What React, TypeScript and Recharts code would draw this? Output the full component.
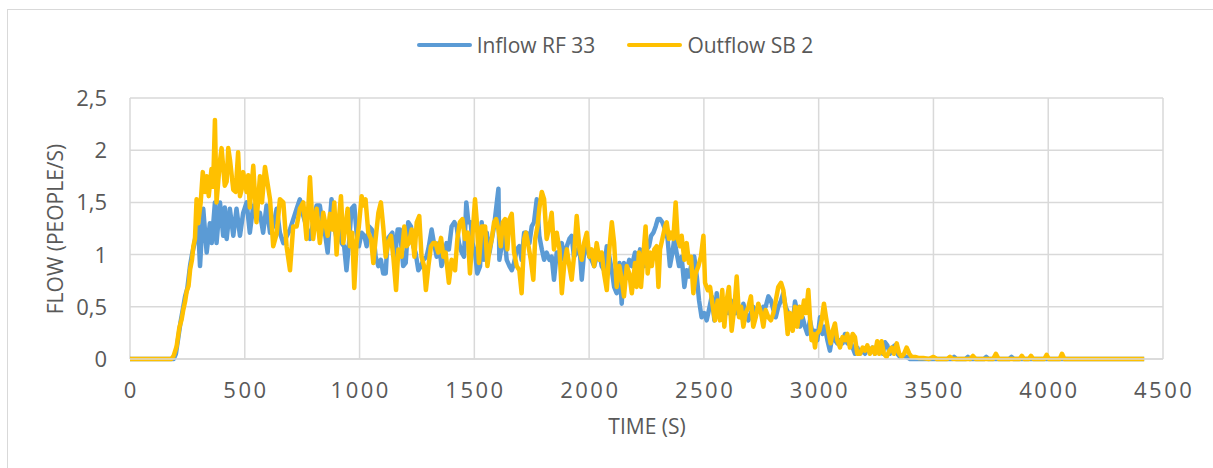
import React from "react";
import { LineChart, Line, XAxis, YAxis, CartesianGrid, Legend, Label } from "recharts";

// time (s) -> flow (people/s)
const INFLOW_RF33: [number, number][] = [
  [0, 0], [190, 0], [200, 0.05], [210, 0.2], [220, 0.35], [232, 0.5], [240, 0.6], [250, 0.68], [262, 0.9], [270, 1.0],
  [280, 1.1], [290, 1.25], [297, 1.27], [305, 0.89], [319, 1.44], [334, 1.02], [348, 1.3], [356, 1.11], [370, 1.5], [377, 1.11],
  [392, 1.5], [406, 1.18], [413, 1.45], [421, 1.15], [435, 1.44], [450, 1.18], [464, 1.44], [479, 1.18], [493, 1.4], [508, 1.5],
  [522, 1.21], [537, 1.47], [551, 1.34], [566, 1.4], [580, 1.21], [595, 1.47], [610, 1.21], [624, 1.27], [639, 1.44], [653, 1.21],
  [668, 1.11], [697, 1.24], [726, 1.44], [740, 1.53], [755, 1.37], [784, 1.15], [813, 1.47], [827, 1.47], [842, 1.24],
  [849, 1.21], [861, 1.02], [871, 1.34], [878, 1.53], [890, 1.27], [900, 1.15], [910, 1.24], [922, 1.11], [933, 1.08], [943, 0.85],
  [954, 1.11], [965, 1.44], [977, 1.47], [987, 1.21], [997, 1.08], [1009, 1.21], [1021, 1.18], [1031, 1.08], [1041, 1.27], [1053, 1.24],
  [1060, 1.21], [1070, 0.98], [1082, 0.89], [1093, 0.95], [1103, 0.82], [1114, 0.82], [1122, 1.15], [1132, 1.18], [1143, 1.21], [1154, 0.95],
  [1166, 1.24], [1176, 1.24], [1190, 0.89], [1201, 0.92], [1212, 1.31], [1224, 1.27], [1234, 1.08], [1244, 1.02], [1256, 0.85], [1268, 0.89],
  [1278, 0.95], [1292, 0.98], [1302, 1.08], [1314, 1.24], [1324, 1.11], [1336, 0.98], [1346, 1.11], [1357, 0.89], [1369, 0.98], [1379, 1.11],
  [1389, 1.05], [1401, 1.27], [1413, 1.31], [1423, 1.27], [1433, 1.11], [1445, 1.02], [1455, 0.98], [1465, 1.5], [1474, 1.31], [1484, 1.31],
  [1492, 1.11], [1503, 1.02], [1513, 0.82], [1525, 0.89], [1532, 1.31], [1542, 0.95], [1554, 1.21], [1566, 1.02], [1576, 1.15], [1586, 1.27],
  [1598, 1.5], [1605, 1.63], [1609, 0.95], [1619, 1.08], [1630, 1.21], [1641, 0.95], [1653, 0.89], [1663, 0.85], [1673, 0.92], [1685, 1.05],
  [1696, 1.08], [1706, 0.95], [1717, 1.21], [1728, 1.21], [1740, 1.11], [1750, 1.27], [1760, 1.31], [1772, 1.53], [1783, 1.18], [1794, 1.05],
  [1804, 0.95], [1815, 1.02], [1827, 0.95], [1837, 0.98], [1847, 0.76], [1859, 1.02], [1871, 1.02], [1881, 1.11], [1891, 0.95], [1903, 1.08],
  [1914, 1.15], [1924, 1.18], [1934, 0.98], [1946, 1.02], [1958, 1.08], [1968, 0.76], [1978, 1.02], [1990, 1.08], [2001, 0.98], [2011, 0.95],
  [2022, 0.89], [2033, 0.98], [2045, 1.02], [2055, 0.89], [2065, 0.85], [2077, 1.08], [2088, 0.98], [2099, 0.85], [2109, 0.69], [2120, 0.63],
  [2132, 0.92], [2142, 0.53], [2152, 0.92], [2164, 0.85], [2175, 0.95], [2186, 0.89], [2200, 1.02], [2212, 0.82], [2222, 1.05], [2232, 1.02],
  [2241, 0.89], [2251, 1.05], [2261, 1.08], [2270, 1.18], [2280, 1.21], [2290, 1.27], [2299, 1.34], [2309, 1.34], [2319, 1.31], [2331, 1.24],
  [2342, 1.15], [2352, 0.89], [2363, 1.02], [2371, 1.15], [2381, 1.02], [2392, 0.89], [2403, 0.98], [2415, 0.69], [2425, 0.85], [2435, 0.79],
  [2447, 0.92], [2458, 0.98], [2469, 0.79], [2479, 0.56], [2490, 0.4], [2502, 0.44], [2512, 0.37], [2522, 0.47], [2534, 0.6], [2546, 0.37],
  [2556, 0.63], [2566, 0.44], [2575, 0.4], [2585, 0.56], [2595, 0.5], [2607, 0.44], [2618, 0.56], [2628, 0.5], [2639, 0.44], [2650, 0.5],
  [2662, 0.4], [2672, 0.53], [2682, 0.44], [2694, 0.37], [2705, 0.44], [2715, 0.5], [2726, 0.44], [2737, 0.5], [2749, 0.44], [2759, 0.5],
  [2769, 0.5], [2781, 0.6], [2792, 0.56], [2803, 0.47], [2813, 0.4], [2824, 0.5], [2836, 0.56], [2846, 0.63], [2856, 0.5], [2868, 0.44],
  [2887, 0.34], [2897, 0.55], [2907, 0.44], [2919, 0.31], [2930, 0.4], [2940, 0.31], [2951, 0.24], [2962, 0.37], [2974, 0.24], [2984, 0.27],
  [2994, 0.18], [3006, 0.4], [3017, 0.24], [3027, 0.31], [3038, 0.18], [3049, 0.08], [3061, 0.24], [3071, 0.18], [3081, 0.15], [3093, 0.18],
  [3104, 0.15], [3115, 0.24], [3125, 0.15], [3136, 0.18], [3148, 0.11], [3158, 0.05], [3168, 0.11], [3180, 0.05], [3192, 0.08], [3202, 0.05],
  [3212, 0.11], [3223, 0.08], [3235, 0.11], [3245, 0.05], [3255, 0.08], [3267, 0.11], [3279, 0.05], [3289, 0.16], [3299, 0.13], [3311, 0.05],
  [3322, 0.11], [3332, 0.13], [3343, 0.05], [3354, 0.02], [3369, 0.03], [3383, 0.02], [3398, 0], [3580, 0], [3590, 0.02], [3600, 0],
  [3640, 0], [3650, 0.02], [3660, 0], [3720, 0], [3730, 0.02], [3740, 0], [3830, 0], [3840, 0.02], [3850, 0], [4418, 0],
];

const OUTFLOW_SB2: [number, number][] = [
  [0, 0], [180, 0], [190, 0.03], [203, 0.12], [215, 0.3], [225, 0.38], [232, 0.47], [240, 0.55], [247, 0.65], [255, 0.7],
  [262, 0.86], [270, 0.95], [276, 1.08], [283, 1.15], [290, 1.53], [297, 1.3], [308, 1.5], [317, 1.79], [327, 1.6], [334, 1.75],
  [343, 1.56], [355, 1.82], [362, 1.65], [370, 2.29], [377, 1.5], [392, 1.9], [399, 2.02], [413, 1.66], [421, 1.7], [428, 2.02],
  [436, 1.9], [450, 1.62], [460, 1.6], [471, 1.98], [479, 1.56], [486, 1.62], [493, 1.79], [508, 1.6], [515, 1.76], [522, 1.45],
  [537, 1.85], [551, 1.31], [566, 1.75], [575, 1.5], [588, 1.84], [610, 1.53], [617, 1.3], [624, 1.08], [639, 1.2], [653, 1.53],
  [668, 1.5], [682, 1.08], [697, 0.85], [711, 1.27], [726, 1.27], [740, 1.44], [755, 1.5], [769, 1.15], [784, 1.74], [798, 1.15],
  [813, 1.44], [827, 1.11], [842, 1.4], [861, 1.18], [871, 1.39], [881, 1.24], [890, 1.5], [900, 1.0], [907, 1.27], [919, 1.56],
  [929, 1.11], [939, 1.27], [948, 1.44], [958, 1.08], [968, 1.21], [977, 0.68], [987, 1.11], [997, 1.27], [1009, 1.56], [1016, 1.47],
  [1026, 1.53], [1038, 1.21], [1050, 1.15], [1060, 0.92], [1070, 1.15], [1082, 1.4], [1093, 1.5], [1103, 1.27], [1114, 0.98], [1125, 1.11],
  [1137, 1.18], [1147, 0.98], [1159, 0.66], [1169, 1.05], [1183, 0.98], [1195, 1.27], [1205, 1.08], [1215, 1.11], [1227, 1.24], [1239, 0.98],
  [1249, 1.31], [1260, 1.37], [1270, 0.98], [1281, 0.89], [1289, 0.66], [1300, 0.89], [1311, 1.08], [1321, 1.11], [1331, 1.11], [1343, 1.02],
  [1355, 1.16], [1365, 0.98], [1375, 1.02], [1389, 0.73], [1401, 0.95], [1416, 0.85], [1426, 1.15], [1437, 1.31], [1448, 1.34], [1459, 1.15],
  [1471, 1.21], [1481, 0.82], [1491, 1.15], [1503, 1.53], [1510, 1.34], [1520, 0.92], [1532, 1.27], [1547, 1.27], [1557, 0.89], [1566, 1.05],
  [1576, 1.15], [1586, 1.31], [1595, 1.34], [1605, 1.24], [1615, 1.08], [1624, 1.31], [1634, 1.34], [1644, 1.05], [1653, 1.34], [1663, 1.39],
  [1673, 1.02], [1685, 0.89], [1696, 0.85], [1706, 0.63], [1717, 1.15], [1725, 1.21], [1736, 1.08], [1746, 0.95], [1757, 0.76], [1765, 1.15],
  [1775, 1.27], [1783, 1.44], [1794, 1.6], [1804, 1.53], [1815, 1.15], [1827, 1.27], [1837, 1.4], [1847, 1.05], [1859, 1.21], [1871, 1.05],
  [1881, 0.63], [1891, 0.89], [1903, 1.05], [1914, 0.89], [1924, 0.76], [1934, 0.98], [1946, 1.37], [1958, 1.05], [1968, 0.95], [1978, 1.11],
  [1990, 1.21], [2001, 0.98], [2011, 1.05], [2022, 0.89], [2033, 1.11], [2045, 0.95], [2055, 1.02], [2065, 0.82], [2077, 0.66], [2088, 1.05],
  [2099, 1.31], [2109, 1.11], [2120, 0.69], [2132, 0.89], [2142, 0.76], [2152, 0.6], [2164, 0.89], [2175, 0.82], [2186, 0.63], [2200, 0.92],
  [2207, 0.69], [2217, 1.02], [2226, 0.69], [2236, 0.98], [2246, 1.27], [2255, 0.82], [2265, 1.02], [2273, 0.89], [2284, 1.05], [2294, 1.08],
  [2302, 0.69], [2309, 1.05], [2319, 1.15], [2331, 1.27], [2338, 1.31], [2348, 1.15], [2357, 1.21], [2367, 1.15], [2377, 1.5], [2386, 1.15],
  [2396, 1.08], [2403, 1.18], [2415, 0.95], [2425, 1.11], [2435, 0.92], [2444, 0.98], [2454, 0.63], [2464, 0.82], [2476, 0.89], [2487, 0.98],
  [2498, 1.18], [2505, 0.73], [2517, 0.66], [2527, 0.69], [2537, 0.53], [2548, 0.37], [2560, 0.56], [2570, 0.37], [2580, 0.66], [2589, 0.31],
  [2599, 0.56], [2609, 0.69], [2621, 0.27], [2633, 0.5], [2643, 0.79], [2653, 0.4], [2662, 0.5], [2672, 0.31], [2682, 0.44], [2694, 0.5],
  [2705, 0.6], [2715, 0.31], [2726, 0.4], [2737, 0.53], [2749, 0.44], [2759, 0.31], [2769, 0.47], [2781, 0.4], [2792, 0.37], [2803, 0.44],
  [2813, 0.56], [2824, 0.69], [2836, 0.73], [2846, 0.66], [2856, 0.47], [2865, 0.24], [2875, 0.44], [2887, 0.27], [2897, 0.5], [2907, 0.31],
  [2916, 0.5], [2926, 0.4], [2936, 0.56], [2945, 0.44], [2955, 0.66], [2962, 0.4], [2969, 0.18], [2977, 0.24], [2984, 0.11], [2991, 0.24],
  [3003, 0.27], [3013, 0.37], [3023, 0.53], [3032, 0.4], [3042, 0.27], [3052, 0.15], [3061, 0.27], [3071, 0.34], [3081, 0.18], [3093, 0.11],
  [3104, 0.21], [3115, 0.18], [3125, 0.24], [3136, 0.11], [3148, 0.24], [3158, 0.21], [3168, 0.05], [3180, 0.05], [3192, 0.11], [3202, 0.08],
  [3212, 0.13], [3223, 0.05], [3235, 0.11], [3245, 0.05], [3255, 0.17], [3264, 0.05], [3274, 0.17], [3284, 0.05], [3296, 0.02], [3308, 0.08],
  [3318, 0.11], [3328, 0.05], [3340, 0.15], [3351, 0.05], [3361, 0.02], [3372, 0.05], [3383, 0.11], [3395, 0.05], [3405, 0.02], [3420, 0.02],
  [3434, 0.01], [3456, 0.01], [3480, 0], [3500, 0.02], [3515, 0], [3560, 0], [3572, 0.02], [3585, 0], [3660, 0], [3672, 0.03],
  [3684, 0], [3760, 0], [3772, 0.05], [3784, 0], [3875, 0], [3885, 0.03], [3895, 0], [3915, 0], [3925, 0.03], [3935, 0],
  [3983, 0], [3993, 0.04], [4003, 0], [4050, 0], [4060, 0.05], [4070, 0], [4418, 0],
];

const TIME_TICKS = [0, 500, 1000, 1500, 2000, 2500, 3000, 3500, 4000, 4500];
const FLOW_TICKS = [0, 0.5, 1, 1.5, 2, 2.5];

const FONT = "'Open Sans', 'Noto Sans', sans-serif";
const TEXT = "#595959";
const GRID = "#d9d9d9";
const BLUE = "#5b9bd5";
const GOLD = "#ffc000";

const toRows = (pts: [number, number][]) => pts.map(([t, v]) => ({ t, v }));
const inflowRows = toRows(INFLOW_RF33);
const outflowRows = toRows(OUTFLOW_SB2);

const comma = (v: number) => String(v).replace(".", ",");

function TimeTick({ x, y, payload }: any) {
  return (
    <text x={x + 1.2} y={y + 39} textAnchor="middle" fill={TEXT} fontSize={22} fontFamily={FONT} style={{ letterSpacing: "2.5px" }}>
      {payload.value}
    </text>
  );
}

function FlowTick({ x, y, payload }: any) {
  return (
    <text x={x - 23} y={y + 8} textAnchor="end" fill={TEXT} fontSize={22} fontFamily={FONT}>
      {comma(payload.value)}
    </text>
  );
}

function renderLegend() {
  const items = [
    { name: "Inflow RF 33", color: BLUE },
    { name: "Outflow SB 2", color: GOLD },
  ];
  return (
    <div style={{ display: "flex", justifyContent: "center", alignItems: "center", paddingLeft: 17, fontFamily: FONT, fontSize: 21, color: TEXT }}>
      {items.map((it, i) => (
        <div key={it.name} style={{ display: "flex", alignItems: "center", marginLeft: i ? 32 : 0 }}>
          <span style={{ display: "inline-block", width: 55, height: 4.5, borderRadius: 2, background: it.color, marginRight: 5 }} />
          <span>{it.name}</span>
        </div>
      ))}
    </div>
  );
}

export default function App() {
  return (
    <div style={{ position: "absolute", left: 0, top: 0, width: 1213, height: 468, overflow: "hidden", background: "#fff" }}>
      <div style={{ position: "absolute", left: 7, top: 9, width: 1230, height: 480, border: `1px solid ${GRID}` }} />
      <LineChart width={1213} height={468} data={inflowRows} margin={{ top: 98, right: 50, bottom: 0, left: 0 }}>
        <CartesianGrid stroke={GRID} strokeWidth={1.5} />
        <XAxis
          dataKey="t"
          type="number"
          domain={[0, 4500]}
          ticks={TIME_TICKS}
          allowDataOverflow
          height={109}
          axisLine={{ stroke: GRID, strokeWidth: 1.5 }}
          tickLine={false}
          tickSize={0}
          tickMargin={0}
          tick={<TimeTick />}
        >
          <Label
            content={() => (
              <text x={647} y={434} textAnchor="middle" fill={TEXT} fontSize={21} fontFamily={FONT}>
                TIME (S)
              </text>
            )}
          />
        </XAxis>
        <YAxis
          type="number"
          domain={[0, 2.5]}
          ticks={FLOW_TICKS}
          width={130}
          axisLine={false}
          tickLine={false}
          tickSize={0}
          tickMargin={0}
          tick={<FlowTick />}
        >
          <Label
            content={() => (
              <text x={63} y={229} transform="rotate(-90 63 229)" textAnchor="middle" fill={TEXT} fontSize={21} fontFamily={FONT}>
                FLOW (PEOPLE/S)
              </text>
            )}
          />
        </YAxis>
        <Legend verticalAlign="middle" wrapperStyle={{ top: 31, left: 0, width: 1213 }} content={renderLegend} />
        <Line
          data={inflowRows}
          dataKey="v"
          name="Inflow RF 33"
          type="linear"
          stroke={BLUE}
          strokeWidth={4.5}
          strokeLinejoin="round"
          dot={false}
          isAnimationActive={false}
        />
        <Line
          data={outflowRows}
          dataKey="v"
          name="Outflow SB 2"
          type="linear"
          stroke={GOLD}
          strokeWidth={4.5}
          strokeLinejoin="round"
          dot={false}
          isAnimationActive={false}
        />
      </LineChart>
    </div>
  );
}
